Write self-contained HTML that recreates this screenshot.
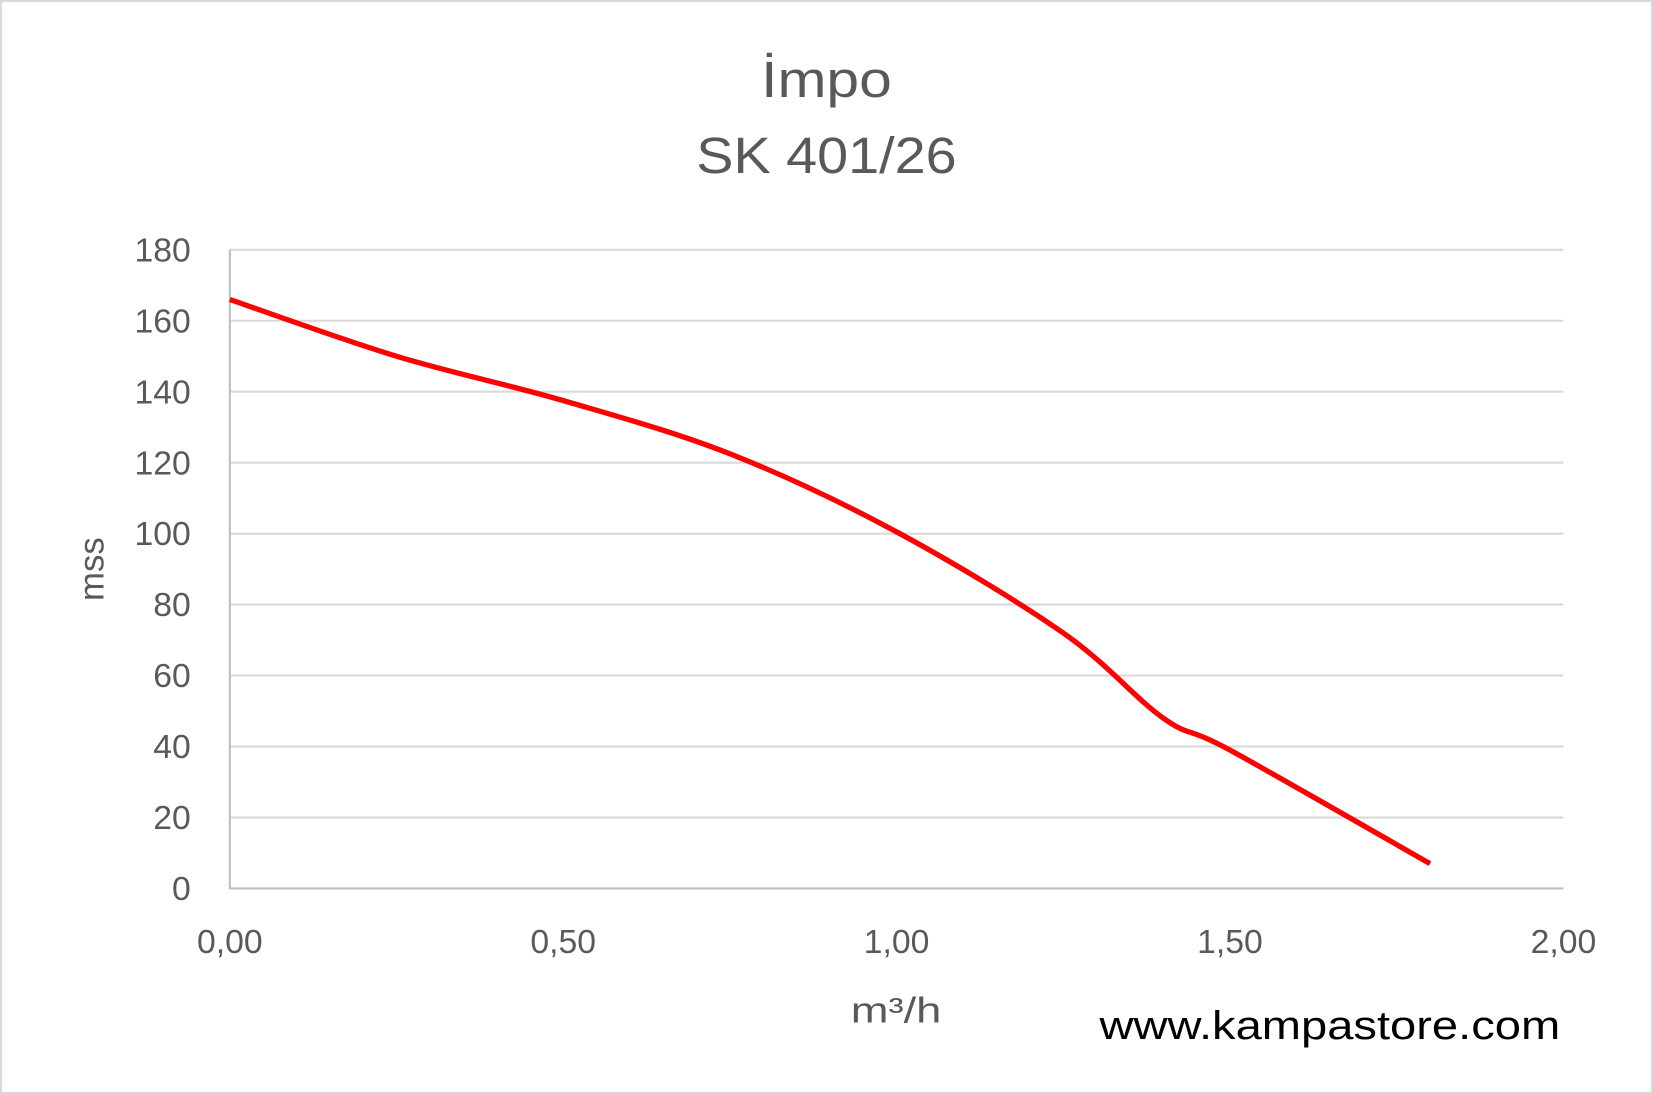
<!DOCTYPE html>
<html><head><meta charset="utf-8"><style>
html,body{margin:0;padding:0;background:#fff;}
svg{display:block;font-family:"Liberation Sans",sans-serif;}
</style></head><body>
<svg width="1653" height="1094" viewBox="0 0 1568 1038" preserveAspectRatio="none" xmlns="http://www.w3.org/2000/svg">
<rect x="1" y="1" width="1566" height="1036" fill="#fff" stroke="#d9d9d9" stroke-width="2"/>
<text x="784" y="92" text-anchor="middle" font-size="48" fill="#595959" textLength="124" lengthAdjust="spacingAndGlyphs">İmpo</text>
<text x="784" y="164" text-anchor="middle" font-size="48" fill="#595959" textLength="247" lengthAdjust="spacingAndGlyphs">SK 401/26</text>
<g id="grid"></g>
<g id="axes"></g>
<text transform="translate(98,540) rotate(-90)" text-anchor="middle" font-size="33" fill="#595959">mss</text>
<text x="850" y="970" text-anchor="middle" font-size="34" fill="#595959" textLength="86" lengthAdjust="spacingAndGlyphs">m³/h</text>
<text x="1480" y="986" text-anchor="end" font-size="38" fill="#000" textLength="437" lengthAdjust="spacingAndGlyphs">www.kampastore.com</text>
<path id="curve" fill="none" stroke="#ff0000" stroke-width="5"/>
</svg>
<script>
const xTicks=[0,0.5,1.0,1.5,2.0];
const xTickLabels=["0,00","0,50","1,00","1,50","2,00"];
const yTicks=[0,20,40,60,80,100,120,140,160,180];
const flowValues=[0,0.25,0.5,0.75,1.0,1.25,1.4,1.5,1.8];
const headValues=[166,150,137.5,122.5,100.5,72,48,39,7];
const X0=218,X1=1483,Y0=843,Y1=237;
function sx(v){return X0+(v-0)/(2-0)*(X1-X0);}
function sy(v){return Y0-(v-0)/(180-0)*(Y0-Y1);}
const NS="http://www.w3.org/2000/svg";
const grid=document.getElementById('grid'),axes=document.getElementById('axes');
yTicks.forEach(t=>{
  if(t>0){const l=document.createElementNS(NS,'line');
  
  
  l.setAttribute('x1',X0);l.setAttribute('x2',X1);l.setAttribute('y1',sy(t));l.setAttribute('y2',sy(t));
  l.setAttribute('stroke','#d9d9d9');l.setAttribute('stroke-width','2');grid.appendChild(l);}
  const tx=document.createElementNS(NS,'text');
  
  
  tx.setAttribute('x',181);tx.setAttribute('y',sy(t)+11);tx.setAttribute('text-anchor','end');
  tx.setAttribute('font-size','32');tx.setAttribute('fill','#595959');tx.textContent=t;axes.appendChild(tx);
});
const ax=document.createElementNS(NS,'path');


ax.setAttribute('d',`M${X0},${Y1}V${Y0}H${X1}`);ax.setAttribute('fill','none');ax.setAttribute('stroke','#bfbfbf');ax.setAttribute('stroke-width','2');axes.appendChild(ax);
xTicks.forEach((t,i)=>{
  const tx=document.createElementNS(NS,'text');
  
  
  tx.setAttribute('x',sx(t));tx.setAttribute('y',904);tx.setAttribute('text-anchor','middle');
  tx.setAttribute('font-size','32');tx.setAttribute('fill','#595959');tx.textContent=xTickLabels[i];axes.appendChild(tx);
});
const pts=flowValues.map((f,i)=>[sx(f),sy(headValues[i])]);
let d=`M${pts[0][0]},${pts[0][1]}`;
for(let i=0;i<pts.length-1;i++){
  const p0=pts[Math.max(0,i-1)],p1=pts[i],p2=pts[i+1],p3=pts[Math.min(pts.length-1,i+2)];
  const c1=[p1[0]+(p2[0]-p0[0])/6,p1[1]+(p2[1]-p0[1])/6];
  const c2=[p2[0]-(p3[0]-p1[0])/6,p2[1]-(p3[1]-p1[1])/6];
  d+=`C${c1[0]},${c1[1]} ${c2[0]},${c2[1]} ${p2[0]},${p2[1]}`;
}
document.getElementById('curve').setAttribute('d',d);
</script>
</body></html>
